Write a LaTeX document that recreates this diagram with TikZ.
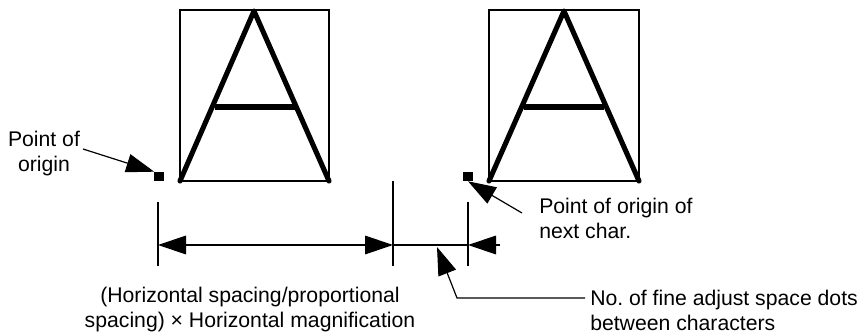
\documentclass[tikz,border=0pt]{standalone}
\usepackage{fontspec}
\setmainfont{Liberation Sans}
\usetikzlibrary{arrows.meta}
\tikzset{bigtri/.tip={Triangle[length=21pt,width=14pt]}}
\frenchspacing
\begin{document}
\begin{tikzpicture}[x=0.75pt,y=-0.75pt,
  lbl/.style={font=\fontsize{15.9}{18.75}\selectfont, inner sep=0pt, align=center},
  frame/.style={line width=1.1pt},
  glyph/.style={line width=3.8pt, line cap=round, line join=round},
  dimline/.style={line width=0.9pt},
  dotnode/.style={fill=black, draw=none, minimum size=6.8pt, inner sep=0pt}]
\useasboundingbox (0,0) rectangle (861,334);
% character cells
\draw[frame] (180,10) rectangle (329,181);
\draw[glyph] (180,181) -- (254,11) -- (329,181);
\draw[glyph, line cap=butt] (215,107) -- (295,107);
\draw[frame] (489,10) rectangle (639,181);
\draw[glyph] (489,181) -- (564,11) -- (639,181);
\draw[glyph, line cap=butt] (524,107) -- (604,107);
% origins
\node[dotnode] (o1) at (159,176.5) {};
\node[dotnode] (o2) at (468,176.5) {};
% labels
\node[lbl] (t1) at (44,154) {Point of\\origin};
\node[lbl, anchor=west, align=left] (t2) at (539,218) {Point of origin of\\next char.};
\node[lbl] (t3) at (250,310) {(Horizontal spacing/proportional\\spacing) × Horizontal magnification};
\node[lbl, anchor=west, align=left] (t4) at (590,310) {No. of fine adjust space dots\\between characters};
% leader arrows to origins
\coordinate (a1) at (83,149);
\coordinate (a2) at (522,213);
\draw[dimline, -{bigtri}] (a1) -- (o1.north west);
\draw[dimline, -{bigtri}] (a2) -- (o2.south);
% extension lines
\coordinate (e1t) at (158,202); \coordinate (e1b) at (158,266);
\coordinate (e2t) at (393,181); \coordinate (e2b) at (393,266);
\coordinate (e3t) at (468,202); \coordinate (e3b) at (468,266);
\draw[dimline] (e1t) -- (e1b);
\draw[dimline] (e2t) -- (e2b);
\draw[dimline] (e3t) -- (e3b);
% dimension lines
\coordinate (d1) at (158,245); \coordinate (d2) at (393,245);
\coordinate (d3) at (468,245); \coordinate (d4) at (500,245);
\draw[dimline, {bigtri}-{bigtri}] (d1) -- (d2);
\draw[dimline] (d2) -- (d3);
\draw[dimline, -{bigtri}] (d4) -- (d3);
% pointer to fine adjust gap
\coordinate (p0) at (585,298);
\coordinate (p1) at (457,298);
\coordinate (p2) at (437,247);
\draw[dimline, -{bigtri}] (p0) -- (p1) -- (p2);
\end{tikzpicture}
\end{document}
